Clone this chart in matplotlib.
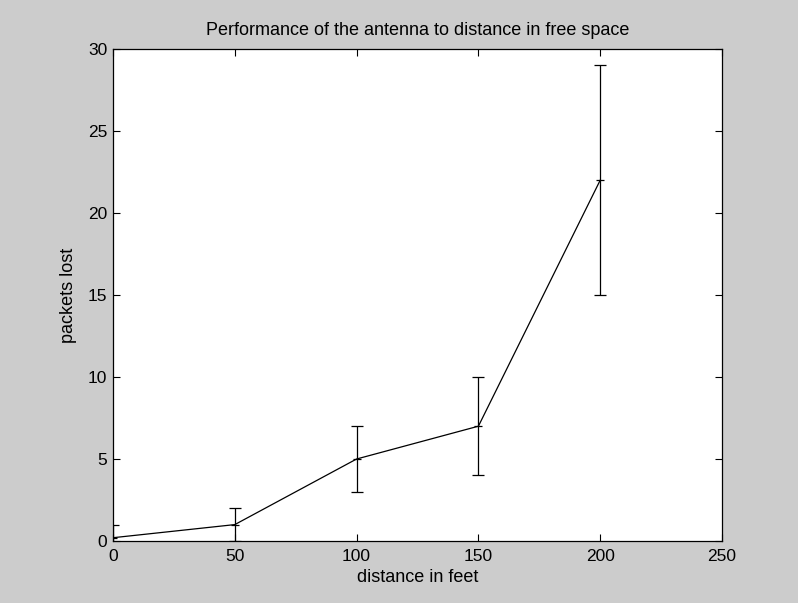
import matplotlib
matplotlib.use("Agg")
import matplotlib.pyplot as plt

distance = [0, 50, 100, 150, 200]
packets = [0.2, 1, 5, 7, 22]
err_low = [0.8, 1, 2, 3, 7]
err_high = [0.8, 1, 2, 3, 7]
xticks = [0, 50, 100, 150, 200, 250]
yticks = [0, 5, 10, 15, 20, 25, 30]

plt.rcParams['font.family'] = ['Liberation Sans', 'DejaVu Sans']
fig = plt.figure(figsize=(7.98, 6.03), dpi=100, facecolor='#cccccc')
ax = fig.add_axes([113/798, 62/603, (722-113)/798, (541-49)/603])
ax.set_facecolor('white')
ax.errorbar(distance, packets, yerr=[err_low, err_high], color='black',
            linewidth=0.9, elinewidth=0.9, capsize=4.5, capthick=0.9,
            marker='_', markersize=6, markeredgewidth=0.9)
ax.set_xlim(0, 250)
ax.set_ylim(0, 30)
ax.set_xticks(xticks)
ax.set_yticks(yticks)
ax.tick_params(direction='in', length=5, width=0.8, top=True, right=True,
               labelsize=12.5)
ax.tick_params(axis='x', pad=6)
ax.tick_params(axis='y', pad=4)
for s in ax.spines.values():
    s.set_linewidth(0.9)
ax.set_xlabel('distance in feet', fontsize=13, labelpad=3)
ax.set_ylabel('packets lost', fontsize=13, labelpad=8)
ax.set_title('Performance of the antenna to distance in free space', fontsize=13, pad=10)
fig.savefig('out.png', dpi=100, facecolor=fig.get_facecolor())
